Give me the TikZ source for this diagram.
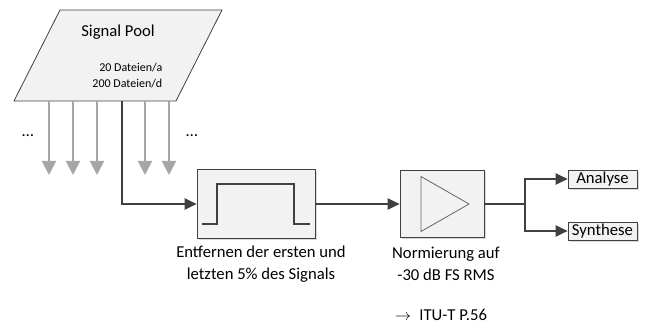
\documentclass[tikz,border=0pt]{standalone}
\usepackage{fontspec}
\setmainfont{Carlito}
\usetikzlibrary{positioning,arrows.meta,shadows}
\definecolor{linegray}{HTML}{404040}
\definecolor{fangray}{HTML}{A6A6A6}
\definecolor{boxfill}{HTML}{F2F2F2}

\begin{document}
\begin{tikzpicture}[x=0.75pt, y=-0.75pt, font=\fontsize{12.5}{16.5}\selectfont,
    block/.style={draw=linegray, fill=boxfill, line width=0.6pt,
      drop shadow={shadow xshift=1.5pt, shadow yshift=-1.5pt, fill=black!25, opacity=0.6}},
    sink/.style={block, minimum width=51.75pt, minimum height=13.5pt, inner sep=0pt},
    main/.style={draw=linegray, line width=1.2pt, -{Triangle[length=9pt, width=8.5pt]}},
    fan/.style={draw=fangray, line width=1.5pt, -{Triangle[length=10.5pt, width=10.5pt]}},
    note/.style={align=center}]
  \useasboundingbox (0,0) rectangle (649,323);

  \draw [draw=linegray, fill=boxfill, line width=0.6pt]
    (60,10) -- (222,10) -- (176,101) -- (14,101) -- cycle;
  \node (pool) at (118,32) {Signal Pool};
  \node [anchor=east, align=right, font=\fontsize{9}{12}\selectfont] (rates) at (167,76)
    {20 Dateien/a \\ 200 Dateien/d};

  \foreach \x in {49,73,97,145,169}
    \draw [fan] (\x,101) coordinate (out\x) -- (\x,175) coordinate (drop\x);
  \node [anchor=base] (moreleft) at (28,137) {\dots};
  \node [anchor=base] (moreright) at (192,137) {\dots};
  \coordinate (src) at (122,101);

  \node [block, minimum width=88.5pt, minimum height=51.75pt] (filt) at (256,204) {};
  \draw [draw=linegray, line width=1.4pt]
    ([shift={(-54,20)}]filt.center) -- ++(15,0) -- ++(0,-40) -- ++(77,0) -- ++(0,40) -- ++(16,0);
  \node [block, minimum width=63pt, minimum height=50.25pt] (norm) at (442,204) {};
  \draw [draw=linegray!80, line width=0.6pt]
    ([shift={(-21,-27.5)}]norm.center) -- ([shift={(27,0)}]norm.center)
    -- ([shift={(-21,27.5)}]norm.center) -- cycle;
  \coordinate (split) at (525,204);
  \node [sink] (ana) at (602.5,179) {Analyse};
  \node [sink] (syn) at (602.5,231) {Synthese};

  \node [note] (filtlabel) at (261,264) {Entfernen der ersten und \\ letzten 5\% des Signals};
  \node [note] (normlabel) at (446,264) {Normierung auf \\ -30 dB FS RMS};
  \node (ref) at (441,315) {$\rightarrow$\enspace ITU-T P.56};

  \draw [main] (src) |- (filt);
  \draw [main] (filt) -- (norm);
  \draw [main, -] (norm) -- (split);
  \draw [main] (split) |- (ana);
  \draw [main] (split) |- (syn);
\end{tikzpicture}
\end{document}
